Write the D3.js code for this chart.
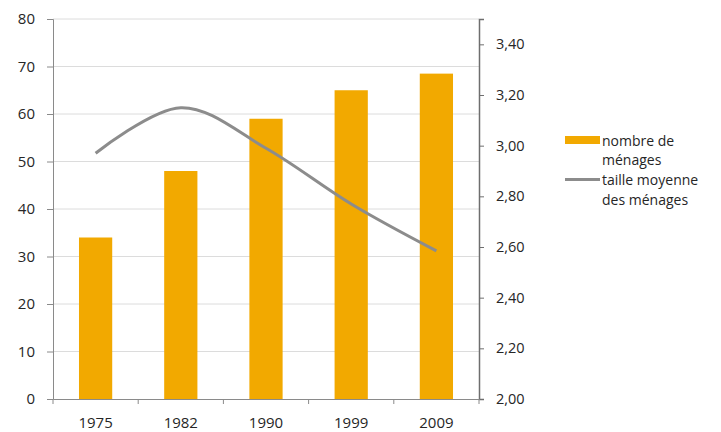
<!DOCTYPE html>
<html><head><meta charset="utf-8">
<script src="https://cdn.jsdelivr.net/npm/d3@7"></script>
<style>body{margin:0;background:#fff}svg{display:block}text{font-family:"Open Sans",sans-serif}</style>
</head><body><svg id="c" width="721" height="432"></svg>
<script>
const years = ["1975","1982","1990","1999","2009"];
const menages = [34, 48, 59, 65, 68.5];
const taille = [2.97, 3.15, 2.99, 2.77, 2.585];
const leftTicks = [0,10,20,30,40,50,60,70,80];
const rightTicks = [2.0,2.2,2.4,2.6,2.8,3.0,3.2,3.4];
const legendLabels = [["nombre de","ménages"],["taille moyenne","des ménages"]];

const svg = d3.select("#c");
const L = 53, R = 479, T = 19, B = 399;
const x = d3.scaleBand().domain(years).range([L, R]).paddingInner(0.61).paddingOuter(0.305);
const xb = d3.scaleBand().domain(years).range([L, R]);
const y = d3.scaleLinear().domain([0, 80]).range([B, T]);
const y2 = d3.scaleLinear().domain([2.0, 3.5]).range([B, T]);
const fmt = d => d.toFixed(2).replace(".", ",");

// gridlines
svg.append("g").selectAll("line").data(leftTicks.filter(d => d > 0)).join("line")
  .attr("x1", L).attr("x2", R).attr("y1", d => y(d)).attr("y2", d => y(d))
  .attr("stroke", "#dcdcdc").attr("stroke-width", 1);

// bars
svg.append("g").selectAll("rect").data(years).join("rect")
  .attr("x", d => x(d)).attr("width", x.bandwidth())
  .attr("y", (d, i) => y(menages[i])).attr("height", (d, i) => B - y(menages[i]))
  .attr("fill", "#F2A900");

// line
const line = d3.line().x((d, i) => xb(years[i]) + xb.bandwidth() / 2).y(d => y2(d)).curve(d3.curveCatmullRom.alpha(0));
svg.append("path").attr("d", line(taille)).attr("fill", "none").attr("stroke", "#8c8c8c").attr("stroke-width", 3);

// left axis
const ga = svg.append("g").attr("transform", `translate(${L},0)`)
  .call(d3.axisLeft(y).tickValues(leftTicks).tickSize(6).tickPadding(12));
ga.select(".domain").attr("stroke", "#8a8a8a");
ga.selectAll(".tick line").attr("stroke", "#8a8a8a");
ga.selectAll("text").attr("font-size", 15).attr("fill", "#262626").attr("font-family", "Open Sans");

// right axis
const gr = svg.append("g").attr("transform", `translate(${R},0)`)
  .call(d3.axisRight(y2).tickValues(rightTicks).tickFormat(fmt).tickSize(5).tickPadding(12));
gr.select(".domain").attr("stroke", "#6e6e6e").attr("stroke-width", 1.5);
gr.selectAll(".tick line").attr("stroke", "#6e6e6e");
gr.selectAll("text").attr("font-size", 14.5).attr("fill", "#262626").attr("font-family", "Open Sans");

// bottom axis
const gb = svg.append("g").attr("transform", `translate(0,${B})`)
  .call(d3.axisBottom(xb).tickSize(0).tickPadding(18));
gb.select(".domain").attr("stroke", "#8a8a8a");
gb.selectAll("text").attr("font-size", 15).attr("fill", "#262626").attr("font-family", "Open Sans");
svg.append("g").selectAll("line").data(d3.range(years.length + 1)).join("line")
  .attr("x1", i => L + i * xb.step()).attr("x2", i => L + i * xb.step())
  .attr("y1", B).attr("y2", B + 5).attr("stroke", "#8a8a8a");

// legend
const lg = svg.append("g").attr("font-size", 14).attr("fill", "#262626");
lg.append("rect").attr("x", 565).attr("y", 136).attr("width", 35).attr("height", 8).attr("fill", "#F2A900");
lg.append("line").attr("x1", 565).attr("x2", 600).attr("y1", 179.5).attr("y2", 179.5).attr("stroke", "#8c8c8c").attr("stroke-width", 3);
const lineY = [[146, 165], [185, 205]];
legendLabels.forEach((lines, k) => lines.forEach((t, j) =>
  lg.append("text").attr("x", 602).attr("y", lineY[k][j]).attr("fill", "#262626").text(t)));
</script></body></html>
